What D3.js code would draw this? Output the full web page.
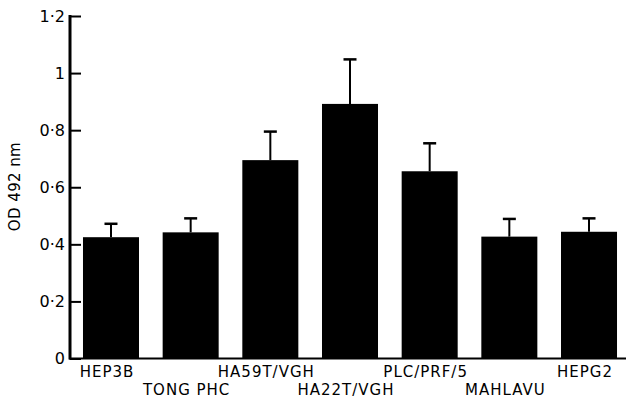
<!DOCTYPE html>
<html>
<head>
<meta charset="utf-8">
<script src="https://cdn.jsdelivr.net/npm/d3@7"></script>
<style>
  body { margin: 0; background: #fff; }
  svg text { font-family: "DejaVu Sans", sans-serif; fill: #000; }
</style>
</head>
<body>
<svg id="chart" width="626" height="403"></svg>
<script>
// cell lines and OD 492 nm readings (mean, with upper error bar end)
var cellLines = ["HEP3B", "TONG PHC", "HA59T/VGH", "HA22T/VGH", "PLC/PRF/5", "MAHLAVU", "HEPG2"];
var odMean = [0.425, 0.442, 0.695, 0.892, 0.656, 0.427, 0.444];
var odUpper = [0.472, 0.491, 0.795, 1.048, 0.754, 0.489, 0.491];
var yTicks = [0, 0.2, 0.4, 0.6, 0.8, 1, 1.2];
var yTickLabels = ["0", "0·2", "0·4", "0·6", "0·8", "1", "1·2"];

var svg = d3.select("#chart");

var x = d3.scaleBand()
  .domain(cellLines)
  .range([70, 630])
  .paddingInner(0.297)
  .paddingOuter(0.163);

var y = d3.scaleLinear()
  .domain([0, 1.2])
  .range([358.5, 16]);

// bars
svg.selectAll("rect.bar")
  .data(cellLines)
  .enter()
  .append("rect")
  .attr("class", "bar")
  .attr("x", function (d) { return x(d); })
  .attr("width", x.bandwidth())
  .attr("y", function (d, i) { return y(odMean[i]); })
  .attr("height", function (d, i) { return y(0) - y(odMean[i]); })
  .style("fill", "#000");

// error bars
var err = svg.append("g");
cellLines.forEach(function (d, i) {
  var cx = x(d) + x.bandwidth() / 2;
  err.append("line")
    .attr("x1", cx).attr("x2", cx)
    .attr("y1", y(odMean[i])).attr("y2", y(odUpper[i]))
    .style("stroke", "#000").style("stroke-width", 2);
  err.append("line")
    .attr("x1", cx - 6.5).attr("x2", cx + 6.5)
    .attr("y1", y(odUpper[i])).attr("y2", y(odUpper[i]))
    .style("stroke", "#000").style("stroke-width", 2.5);
});

// baseline
svg.append("line")
  .attr("x1", 69).attr("x2", 626)
  .attr("y1", y(0)).attr("y2", y(0))
  .style("stroke", "#000").style("stroke-width", 2);

// y axis, ticks pointing inward
var yAxis = d3.axisRight(y)
  .tickValues(yTicks)
  .tickSize(11)
  .tickFormat("");
var yg = svg.append("g")
  .attr("transform", "translate(70,0)")
  .call(yAxis);
yg.select(".domain").remove();
yg.selectAll(".tick line").style("stroke", "#000").style("stroke-width", 2);
svg.append("line")
  .attr("x1", 70).attr("x2", 70)
  .attr("y1", y(1.2) - 1).attr("y2", y(0) + 1)
  .style("stroke", "#000").style("stroke-width", 3);

svg.selectAll("text.ytick")
  .data(yTicks)
  .enter()
  .append("text")
  .attr("class", "ytick")
  .attr("x", 65)
  .attr("y", function (d) { return y(d); })
  .attr("dy", "0.36em")
  .attr("text-anchor", "end")
  .style("font-size", "16px")
  .text(function (d, i) { return yTickLabels[i]; });

// y title
svg.append("text")
  .attr("transform", "translate(20,186.5) rotate(-90)")
  .attr("text-anchor", "middle")
  .style("font-size", "15px")
  .style("letter-spacing", "0.4px")
  .text("OD 492 nm");

// category labels, staggered in two rows
svg.selectAll("text.cat")
  .data(cellLines)
  .enter()
  .append("text")
  .attr("class", "cat")
  .attr("x", function (d) { return x(d) + x.bandwidth() / 2 - 4; })
  .attr("y", function (d, i) { return i % 2 === 0 ? 377 : 395; })
  .attr("text-anchor", "middle")
  .style("font-size", "15px")
  .style("letter-spacing", "1px")
  .text(function (d) { return d; });
</script>
</body>
</html>
